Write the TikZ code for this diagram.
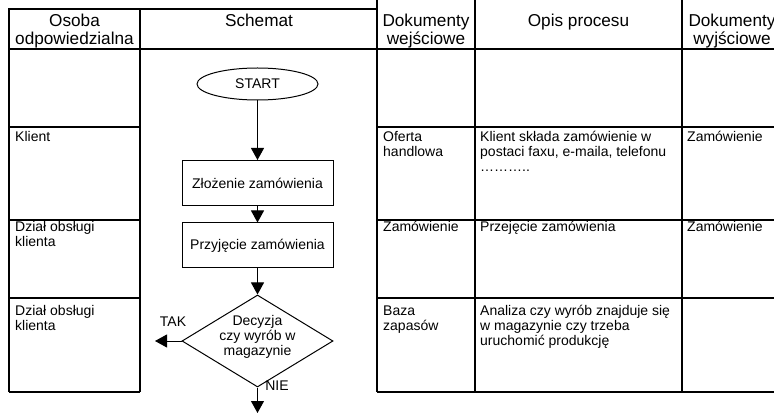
\documentclass[tikz,border=0pt]{standalone}
\usepackage{fontspec}
\setmainfont{Liberation Sans}
\usetikzlibrary{shapes.geometric,arrows.meta}
\begin{document}
\begin{tikzpicture}[x=1pt,y=-1pt,
  grid/.style={line width=1.5pt},
  flow/.style={line width=1pt},
  arr/.style={flow,-{Triangle[width=13pt,length=12pt]}},
  hdr/.style={inner sep=0pt,anchor=base,font=\fontsize{17.2}{16}\selectfont},
  cell/.style={inner sep=0pt,anchor=base west,font=\fontsize{14}{15}\selectfont},
  lbl/.style={inner sep=0pt,font=\fontsize{14}{15}\selectfont},
  box/.style={draw,flow,rectangle,minimum width=151pt,minimum height=45pt,inner sep=0pt,font=\fontsize{14}{15}\selectfont},
  ]
\useasboundingbox (0,0) rectangle (774,414);
\clip (0,0) rectangle (774,414);
% table grid
\draw[grid] (9,392) -- (9,9) -- (377,9);
\draw[grid] (140,9) -- (140,392);
\draw[grid] (377,0) -- (377,392);
\draw[grid] (475,0) -- (475,392);
\draw[grid] (682,0) -- (682,392);
\draw[grid] (9,49) -- (774,49);
\foreach \yy in {127,220,298,392} {
  \draw[grid] (9,\yy) -- (140,\yy);
  \draw[grid] (377,\yy) -- (774,\yy);
}
% headers
\node[hdr] (h1) at (74.5,27) {\begin{tabular}[t]{@{}c@{}}Osoba\\odpowiedzialna\end{tabular}};
\node[hdr] (h2) at (259,27) {Schemat};
\node[hdr] (h3) at (426,27) {\begin{tabular}[t]{@{}c@{}}Dokumenty\\wejściowe\end{tabular}};
\node[hdr] (h4) at (578.5,27) {Opis procesu};
\node[hdr] (h5) at (732,27) {\begin{tabular}[t]{@{}c@{}}Dokumenty\\wyjściowe\end{tabular}};
% cells
\node[cell] (c11) at (15,142) {Klient};
\node[cell] (c21) at (15,232) {\begin{tabular}[t]{@{}l@{}}Dział obsługi\\klienta\end{tabular}};
\node[cell] (c31) at (15,315) {\begin{tabular}[t]{@{}l@{}}Dział obsługi\\klienta\end{tabular}};
\node[cell] (c13) at (383,142) {\begin{tabular}[t]{@{}l@{}}Oferta\\handlowa\end{tabular}};
\node[cell] (c23) at (383,232) {Zamówienie};
\node[cell] (c33) at (383,315) {\begin{tabular}[t]{@{}l@{}}Baza\\zapasów\end{tabular}};
\node[cell] (c14) at (480,142) {\begin{tabular}[t]{@{}l@{}}Klient składa zamówienie w\\postaci faxu, e-maila, telefonu\\………..\end{tabular}};
\node[cell] (c24) at (480,232) {Przejęcie zamówienia};
\node[cell] (c34) at (480,315) {\begin{tabular}[t]{@{}l@{}}Analiza czy wyrób znajduje się\\w magazynie czy trzeba\\uruchomić produkcję\end{tabular}};
\node[cell] (c15) at (687,142) {Zamówienie};
\node[cell] (c25) at (687,232) {Zamówienie};
% flowchart
\node[draw,flow,ellipse,minimum width=121pt,minimum height=32pt,inner sep=0pt,font=\fontsize{14}{15}\selectfont] (start) at (257.5,84) {START};
\node[box] (b1) at (257.5,183) {Złożenie zamówienia};
\node[box] (b2) at (257.5,245.5) {Przyjęcie zamówienia};
\node[draw,flow,diamond,aspect=1.64,minimum width=151pt,minimum height=92pt,inner sep=0pt] (dec) at (257.5,341) {};
\node[lbl,align=center] (dtext) at (257.5,337) {Decyzja\\czy wyrób w\\magazynie};
\node[lbl] (tak) at (173,322) {TAK};
\node[lbl] (nie) at (277,386) {NIE};
\coordinate (tend) at (155,341);
\coordinate (nend) at (257.5,413);
\draw[arr] (start) -- (b1);
\draw[arr] (b1) -- (b2);
\draw[arr] (b2) -- (dec);
\draw[arr] (dec.west) -- (tend);
\draw[arr] (dec.south) -- (nend);
\end{tikzpicture}
\end{document}
